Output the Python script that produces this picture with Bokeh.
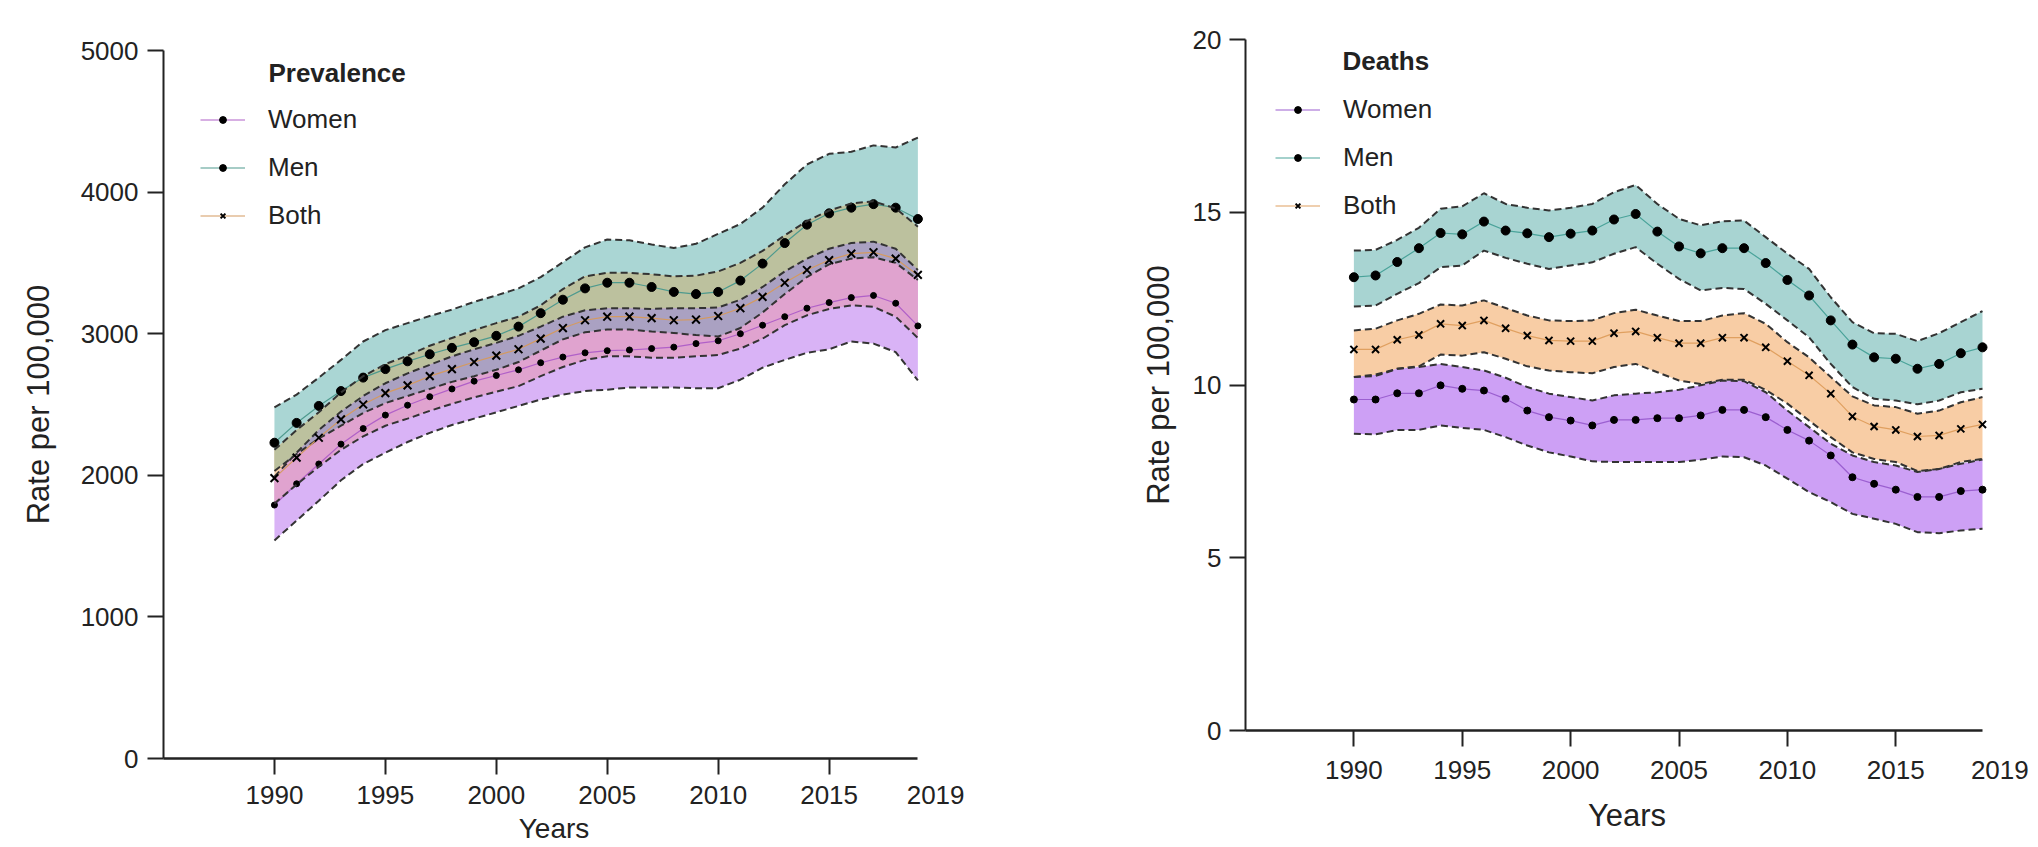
import numpy as np
from bokeh.plotting import figure
from bokeh.layouts import row
from bokeh.models import Legend, LegendItem, Label, FixedTicker, LinearAxis, CustomJSTickFormatter
from bokeh.embed import file_html
from bokeh.resources import INLINE

years = list(range(1990, 2020))

# ---------------- Prevalence (rate per 100,000) ----------------
prev_men = [2230, 2370, 2490, 2595, 2690, 2750, 2805, 2855, 2900, 2940, 2985, 3050, 3145, 3240, 3320,
            3360, 3360, 3330, 3295, 3280, 3295, 3375, 3495, 3640, 3770, 3850, 3890, 3915, 3890, 3810]
prev_men_hi = [2480, 2570, 2690, 2815, 2945, 3025, 3075, 3125, 3170, 3225, 3270, 3320, 3400, 3505, 3610,
               3665, 3660, 3630, 3605, 3635, 3705, 3775, 3890, 4055, 4195, 4270, 4285, 4330, 4315, 4385]
prev_men_lo = [2030, 2150, 2260, 2350, 2440, 2510, 2560, 2610, 2660, 2700, 2745, 2800, 2880, 2960, 3010,
               3030, 3030, 3015, 3005, 2990, 2980, 3040, 3150, 3280, 3400, 3490, 3530, 3540, 3500, 3380]
prev_both = [1980, 2125, 2265, 2395, 2500, 2580, 2635, 2700, 2750, 2800, 2845, 2890, 2965, 3040, 3095,
             3120, 3120, 3110, 3095, 3100, 3125, 3180, 3260, 3360, 3450, 3520, 3565, 3575, 3530, 3415]
prev_both_hi = [2180, 2320, 2445, 2585, 2700, 2785, 2845, 2915, 2970, 3025, 3075, 3120, 3200, 3315, 3405,
                3430, 3430, 3420, 3405, 3410, 3440, 3500, 3585, 3695, 3795, 3870, 3920, 3935, 3885, 3755]
prev_both_lo = [1800, 1935, 2060, 2180, 2275, 2350, 2400, 2455, 2505, 2550, 2590, 2630, 2700, 2765, 2815,
                2840, 2840, 2830, 2830, 2840, 2850, 2895, 2965, 3060, 3130, 3175, 3200, 3190, 3120, 2970]
prev_women = [1790, 1940, 2080, 2220, 2330, 2425, 2495, 2555, 2610, 2665, 2705, 2745, 2795, 2835, 2865,
              2880, 2885, 2895, 2905, 2930, 2950, 3000, 3060, 3120, 3180, 3220, 3255, 3270, 3215, 3055]
prev_women_hi = [1990, 2160, 2320, 2450, 2560, 2650, 2720, 2780, 2840, 2890, 2935, 2985, 3050, 3120, 3165,
                 3180, 3180, 3175, 3180, 3180, 3185, 3240, 3330, 3440, 3530, 3600, 3640, 3650, 3600, 3450]
prev_women_lo = [1540, 1680, 1820, 1965, 2080, 2160, 2235, 2300, 2355, 2400, 2445, 2490, 2535, 2570, 2595,
                 2605, 2620, 2620, 2620, 2615, 2615, 2675, 2760, 2815, 2865, 2890, 2945, 2930, 2870, 2670]

# ---------------- Deaths (rate per 100,000) ----------------
death_men = [13.12, 13.17, 13.56, 13.96, 14.40, 14.36, 14.73, 14.47, 14.39, 14.28, 14.38, 14.47, 14.79, 14.95, 14.44,
             14.01, 13.81, 13.96, 13.96, 13.53, 13.04, 12.59, 11.87, 11.17, 10.80, 10.76, 10.47, 10.61, 10.92, 11.09]
death_men_hi = [13.89, 13.91, 14.20, 14.55, 15.10, 15.17, 15.55, 15.24, 15.13, 15.05, 15.13, 15.24, 15.58, 15.79, 15.24,
                14.81, 14.62, 14.74, 14.76, 14.28, 13.80, 13.36, 12.54, 11.82, 11.50, 11.48, 11.27, 11.50, 11.82, 12.14]
death_men_lo = [12.27, 12.30, 12.64, 12.95, 13.41, 13.46, 13.89, 13.68, 13.51, 13.36, 13.46, 13.55, 13.80, 13.99, 13.51,
                13.07, 12.74, 12.81, 12.78, 12.35, 11.87, 11.38, 10.61, 9.94, 9.60, 9.55, 9.44, 9.55, 9.79, 9.89]
death_both = [11.03, 11.03, 11.31, 11.45, 11.77, 11.72, 11.87, 11.64, 11.43, 11.29, 11.27, 11.27, 11.50, 11.55, 11.37,
              11.21, 11.21, 11.37, 11.37, 11.09, 10.69, 10.28, 9.75, 9.09, 8.80, 8.70, 8.51, 8.54, 8.73, 8.86]
death_both_hi = [11.58, 11.63, 11.87, 12.06, 12.33, 12.30, 12.45, 12.23, 12.01, 11.87, 11.85, 11.87, 12.08, 12.18, 12.01,
                 11.85, 11.85, 12.01, 12.08, 11.77, 11.24, 10.80, 10.23, 9.67, 9.41, 9.36, 9.17, 9.26, 9.50, 9.65]
death_both_lo = [10.23, 10.26, 10.47, 10.54, 10.88, 10.85, 10.95, 10.76, 10.54, 10.42, 10.37, 10.34, 10.52, 10.61, 10.37,
                 10.13, 10.03, 10.15, 10.15, 9.86, 9.46, 8.97, 8.49, 8.05, 7.86, 7.77, 7.51, 7.57, 7.77, 7.86]
death_women = [9.58, 9.58, 9.76, 9.76, 9.99, 9.89, 9.84, 9.60, 9.26, 9.07, 8.97, 8.83, 8.99, 8.99, 9.04,
               9.04, 9.12, 9.28, 9.28, 9.07, 8.70, 8.39, 7.96, 7.33, 7.14, 6.97, 6.76, 6.76, 6.93, 6.97]
death_women_hi = [10.23, 10.30, 10.47, 10.52, 10.61, 10.52, 10.42, 10.21, 9.94, 9.75, 9.65, 9.55, 9.70, 9.75, 9.79,
                  9.86, 9.99, 10.13, 10.11, 9.79, 9.26, 8.78, 8.30, 7.96, 7.77, 7.67, 7.48, 7.57, 7.72, 7.84]
death_women_lo = [8.59, 8.57, 8.70, 8.70, 8.83, 8.76, 8.70, 8.49, 8.25, 8.05, 7.93, 7.79, 7.77, 7.77, 7.77,
                  7.77, 7.84, 7.93, 7.91, 7.67, 7.29, 6.90, 6.61, 6.27, 6.13, 5.98, 5.74, 5.71, 5.79, 5.84]

x_ticks = [1990, 1995, 2000, 2005, 2010, 2015]
last_year_label_pos = 2019.8          # "2019" is printed a little to the right of the last year
prev_y_ticks = [0, 1000, 2000, 3000, 4000, 5000]
death_y_ticks = [0, 5, 10, 15, 20]

FONT = "Liberation Sans"
TXT = "#222222"
DASH_COLOR = "#333333"


def style(p, yticks, ylab_standoff, ytick_standoff, xlab_standoff, years_bounds, years_size, years_standoff):
    p.outline_line_color = None
    p.frame_align = False
    p.xgrid.visible = False
    p.ygrid.visible = False

    # axis A: line + tick marks (no labels)
    a = p.xaxis[0]
    a.ticker = FixedTicker(ticks=x_ticks)
    a.bounds = (1985, 2019)
    a.formatter = CustomJSTickFormatter(code="return '';")
    a.major_label_text_font_size = "1px"
    a.major_label_standoff = 0
    # axis B: labels only (stacked directly under axis A)
    b = LinearAxis(ticker=FixedTicker(ticks=x_ticks + [last_year_label_pos]),
                   formatter=CustomJSTickFormatter(code="return tick > 2018 ? '2019' : String(Math.round(tick));"),
                   bounds=years_bounds)
    b.major_tick_line_color = None
    b.major_tick_out = 0
    b.major_tick_in = 0
    b.major_label_standoff = xlab_standoff
    p.add_layout(b, "below")

    for ax in (a, b, p.yaxis[0]):
        ax.axis_line_width = 2
        ax.axis_line_color = TXT if ax is not b else None
        ax.major_tick_line_width = 2
        ax.minor_tick_in = 0
        ax.minor_tick_out = 0
        ax.major_label_text_font = FONT
        ax.major_label_text_color = TXT
        ax.axis_label_text_font = FONT
        ax.axis_label_text_font_style = "normal"
        ax.axis_label_text_color = TXT
    a.axis_line_width = 2.5
    for ax in (a, p.yaxis[0]):
        ax.major_tick_line_color = TXT
        ax.major_tick_in = 0
        ax.major_tick_out = 16
    b.major_label_text_font_size = "26px"
    b.axis_label = "Years"
    b.axis_label_text_font_size = years_size
    b.axis_label_standoff = years_standoff

    y = p.yaxis[0]
    y.ticker = FixedTicker(ticks=yticks)
    y.major_label_text_font_size = "26px"
    y.major_label_standoff = ytick_standoff
    y.axis_label = "Rate per 100,000"
    y.axis_label_text_font_size = "31px"
    y.axis_label_standoff = ylab_standoff


def series(p, mid, hi, lo, line_color, marker, msize):
    p.line(years, hi, line_color=DASH_COLOR, line_width=2, line_dash="7 4")
    p.line(years, lo, line_color=DASH_COLOR, line_width=2, line_dash="7 4")
    ln = p.line(years, mid, line_color=line_color, line_width=1.2)
    if marker == "x":
        sc = p.scatter(years, mid, marker="x", size=msize, line_color="black", line_width=2)
    else:
        sc = p.scatter(years, mid, marker="circle", size=msize, fill_color="black", line_color="black")
    return ln, sc


def make_legend(p, items, loc):
    lg = Legend(items=[LegendItem(label=n, renderers=list(r)) for n, r in items],
                location=loc, glyph_width=45, glyph_height=17, label_height=17, spacing=17,
                padding=0, margin=0, label_standoff=23, label_text_font=FONT,
                label_text_font_size="26px", label_text_color=TXT,
                border_line_alpha=0, background_fill_alpha=0)
    p.add_layout(lg)


# ======================= Left: Prevalence =======================
p1 = figure(frame_width=781, frame_height=708, x_range=(1985, 2020.2), y_range=(0, 5000),
            output_backend="svg", toolbar_location=None,
            min_border_left=163, min_border_right=56, min_border_top=50, min_border_bottom=20)
style(p1, prev_y_ticks, ylab_standoff=22, ytick_standoff=9, xlab_standoff=11,
      years_bounds=(1985.4, 2019.8), years_size="28px", years_standoff=6)

M_hi, M_lo = np.array(prev_men_hi), np.array(prev_men_lo)
B_hi, B_lo = np.array(prev_both_hi), np.array(prev_both_lo)
W_hi, W_lo = np.array(prev_women_hi), np.array(prev_women_lo)


def inter(los, his):
    lo = np.max(np.vstack(los), axis=0)
    hi = np.min(np.vstack(his), axis=0)
    return lo, np.maximum(hi, lo)


p1.varea(x=years, y1=prev_men_lo, y2=prev_men_hi, fill_color="#aad6d4")
p1.varea(x=years, y1=prev_both_lo, y2=prev_both_hi, fill_color="#f6cfa8")
p1.varea(x=years, y1=prev_women_lo, y2=prev_women_hi, fill_color="#d9b3f6")
lo, hi = inter([M_lo, B_lo], [M_hi, B_hi])
p1.varea(x=years, y1=lo, y2=hi, fill_color="#bcc19e")
lo, hi = inter([B_lo, W_lo], [B_hi, W_hi])
p1.varea(x=years, y1=lo, y2=hi, fill_color="#e0a3cf")
lo, hi = inter([M_lo, W_lo], [M_hi, W_hi])
p1.varea(x=years, y1=lo, y2=hi, fill_color="#aaa1c2")

rw = series(p1, prev_women, prev_women_hi, prev_women_lo, "#b060c8", "circle", 6)
rm = series(p1, prev_men, prev_men_hi, prev_men_lo, "#4e9a8e", "circle", 9)
rb = series(p1, prev_both, prev_both_hi, prev_both_lo, "#d49a60", "x", 11)
make_legend(p1, [("Women", rw), ("Men", rm), ("Both", rb)], (37, 527))
p1.add_layout(Label(x=1989.73, y=4844, text="Prevalence", text_font=FONT, text_font_size="26px",
                    text_font_style="bold", text_baseline="middle", text_color=TXT))

# ======================= Right: Deaths =======================
p2 = figure(frame_width=763, frame_height=691, x_range=(1985, 2020.2), y_range=(0, 20),
            output_backend="svg", toolbar_location=None,
            min_border_left=245, min_border_right=25, min_border_top=39, min_border_bottom=20)
style(p2, death_y_ticks, ylab_standoff=14, ytick_standoff=8, xlab_standoff=14,
      years_bounds=(1984.2, 2019.8), years_size="31px", years_standoff=16)

p2.varea(x=years, y1=death_men_lo, y2=death_men_hi, fill_color="#a8d4d2")
p2.varea(x=years, y1=death_both_lo, y2=death_both_hi, fill_color="#f8cda5")
p2.varea(x=years, y1=death_women_lo, y2=death_women_hi, fill_color="#cda0f5")

dw = series(p2, death_women, death_women_hi, death_women_lo, "#9b5fd0", "circle", 7)
dm = series(p2, death_men, death_men_hi, death_men_lo, "#4aa39a", "circle", 9)
db = series(p2, death_both, death_both_hi, death_both_lo, "#e0a060", "x", 10)
make_legend(p2, [("Women", dw), ("Men", dm), ("Both", db)], (30, 509))
p2.add_layout(Label(x=1989.47, y=19.39, text="Deaths", text_font=FONT, text_font_size="26px",
                    text_font_style="bold", text_baseline="middle", text_color=TXT))

layout = row(p1, p2)
open("out.html", "w").write(file_html(layout, INLINE))
